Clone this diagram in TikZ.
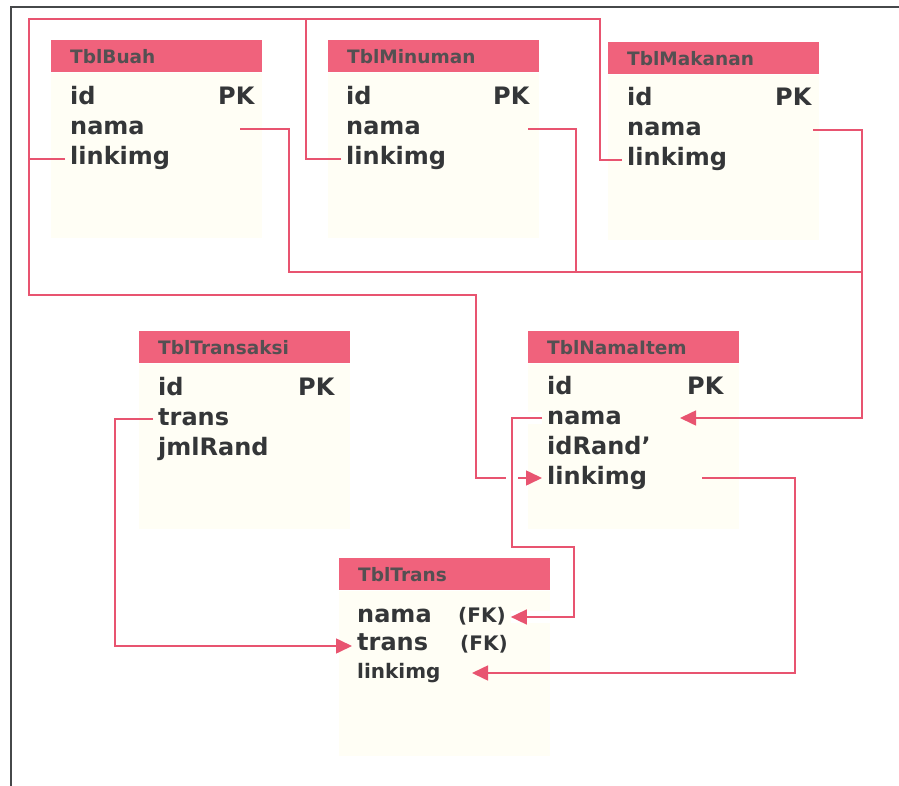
\documentclass[tikz,border=0pt]{standalone}
\usepackage{fontspec}
\setmainfont{DejaVu Sans}
\usetikzlibrary{positioning,arrows.meta}

\definecolor{headcolor}{RGB}{240,98,124}
\definecolor{linkcolor}{RGB}{232,84,112}
\definecolor{bodycolor}{RGB}{255,254,245}
\definecolor{fieldtext}{RGB}{52,54,56}
\definecolor{headtext}{RGB}{84,80,82}
\definecolor{framecolor}{RGB}{70,72,74}

\begin{document}
\begin{tikzpicture}[x=1pt,y=-1pt]
  % Styles
  \tikzstyle{header}=[fill=headcolor,anchor=north west,minimum height=32pt,
    text width=173pt,inner xsep=19pt,inner ysep=0pt,text=headtext,
    font=\fontsize{18.5}{20}\selectfont\bfseries]
  \tikzstyle{table body}=[fill=bodycolor,minimum width=211pt,minimum height=165pt,inner sep=0pt]
  \tikzstyle{field}=[anchor=base west,inner xsep=5pt,inner ysep=0pt,text height=17pt,
    text depth=5pt,text=fieldtext,font=\fontsize{24}{28}\selectfont\bfseries]
  \tikzstyle{small field}=[field,text height=14pt,text depth=4pt,
    font=\fontsize{20}{24}\selectfont\bfseries]
  \tikzstyle{link}=[draw=linkcolor,line width=1.6pt]
  \tikzstyle{link arrow}=[link,-{Triangle[length=16pt,width=15pt]}]

  \useasboundingbox (0,0) rectangle (899,786);

  % Frame
  \draw[framecolor,line width=2pt] (11,786) -- (11,7) -- (899,7);

  % TblBuah
  \node[header] (buah) at (51,40) {TblBuah};
  \node[table body,below=0pt of buah] (buah-body) {};
  \node[field] (buah-id) at (65,105) {id};
  \node[field] (buah-pk) at (213,105) {PK};
  \node[field] (buah-nama) at (65,135) {nama};
  \node[field] (buah-link) at (65,165) {linkimg};

  % TblMinuman
  \node[header] (minuman) at (328,40) {TblMinuman};
  \node[table body,below=0pt of minuman] (minuman-body) {};
  \node[field] (minuman-id) at (341,105) {id};
  \node[field] (minuman-pk) at (488,105) {PK};
  \node[field] (minuman-nama) at (341,135) {nama};
  \node[field] (minuman-link) at (341,165) {linkimg};

  % TblMakanan
  \node[header] (makanan) at (608,42) {TblMakanan};
  \node[table body,below=0pt of makanan] (makanan-body) {};
  \node[field] (makanan-id) at (622,106) {id};
  \node[field] (makanan-pk) at (770,106) {PK};
  \node[field] (makanan-nama) at (622,136) {nama};
  \node[field] (makanan-link) at (622,166) {linkimg};

  % TblTransaksi
  \node[header] (transaksi) at (139,331) {TblTransaksi};
  \node[table body,below=0pt of transaksi] (transaksi-body) {};
  \node[field] (transaksi-id) at (153,395) {id};
  \node[field] (transaksi-pk) at (293,395) {PK};
  \node[field] (transaksi-trans) at (153,425) {trans};
  \node[field] (transaksi-jml) at (153,455) {jmlRand};

  % TblNamaItem
  \node[header] (item) at (528,331) {TblNamaItem};
  \node[table body,below=0pt of item] (item-body) {};
  \node[field] (item-id) at (542,394) {id};
  \node[field] (item-pk) at (682,394) {PK};
  \node[field] (item-nama) at (542,424) {nama};
  \node[field] (item-rand) at (542,454) {idRand'};
  \node[field] (item-link) at (542,484) {linkimg};

  % TblTrans
  \node[header] (trans) at (339,558) {TblTrans};
  \node[table body,below=0pt of trans] (trans-body) {};
  \node[field] (trans-nama) at (352,622) {nama};
  \node[small field] (trans-fk1) at (453,622) {(FK)};
  \node[field] (trans-trans) at (352,650) {trans};
  \node[small field] (trans-fk2) at (455,650) {(FK)};
  \node[small field] (trans-link) at (352,678) {linkimg};

  % Connection points
  \coordinate (buah-nama-r) at (buah-nama -| 240,0);
  \coordinate (minuman-nama-r) at (minuman-nama -| 528,0);
  \coordinate (makanan-nama-r) at (makanan-nama -| 813,0);
  \coordinate (item-nama-r) at (item-nama -| 680,0);
  \coordinate (item-link-r) at (item-link -| 702,0);
  \coordinate (trans-link-r) at (trans-link -| 472,0);
  \coordinate (topL) at (29,19);
  \coordinate (topM) at (306,19);
  \coordinate (topR) at (600,19);
  \coordinate (botL) at (29,295);
  \coordinate (botR) at (476,295);
  \coordinate (midL) at (289,272);
  \coordinate (midM) at (576,272);
  \coordinate (midR) at (862,272);
  \coordinate (namaL) at (512,547);
  \coordinate (namaR) at (574,547);
  \coordinate (linkR) at (795,673);
  \coordinate (transL) at (115,646);

  % linkimg
  \draw[link] (buah-link.west) -| (topL) -- (topR) |- (makanan-link.west);
  \draw[link] (minuman-link.west) -| (topM);
  \draw[link arrow] (topL) -- (botL) -- (botR) |- (item-link.west);

  % nama
  \draw[link] (buah-nama-r) -| (midL) -- (midR);
  \draw[link] (minuman-nama-r) -| (midM);
  \draw[link arrow] (makanan-nama-r) -| (midR) |- (item-nama-r);

  % foreign keys
  \draw[link arrow,preaction={draw=white,line width=12pt,-}]
    (item-nama.west) -| (namaL) -- (namaR) |- (trans-fk1.east);
  \draw[link arrow] (item-link-r) -| (linkR) -- (trans-link-r);
  \draw[link arrow] (transaksi-trans.west) -| (transL) -- (trans-trans.west |- transL);
\end{tikzpicture}
\end{document}
